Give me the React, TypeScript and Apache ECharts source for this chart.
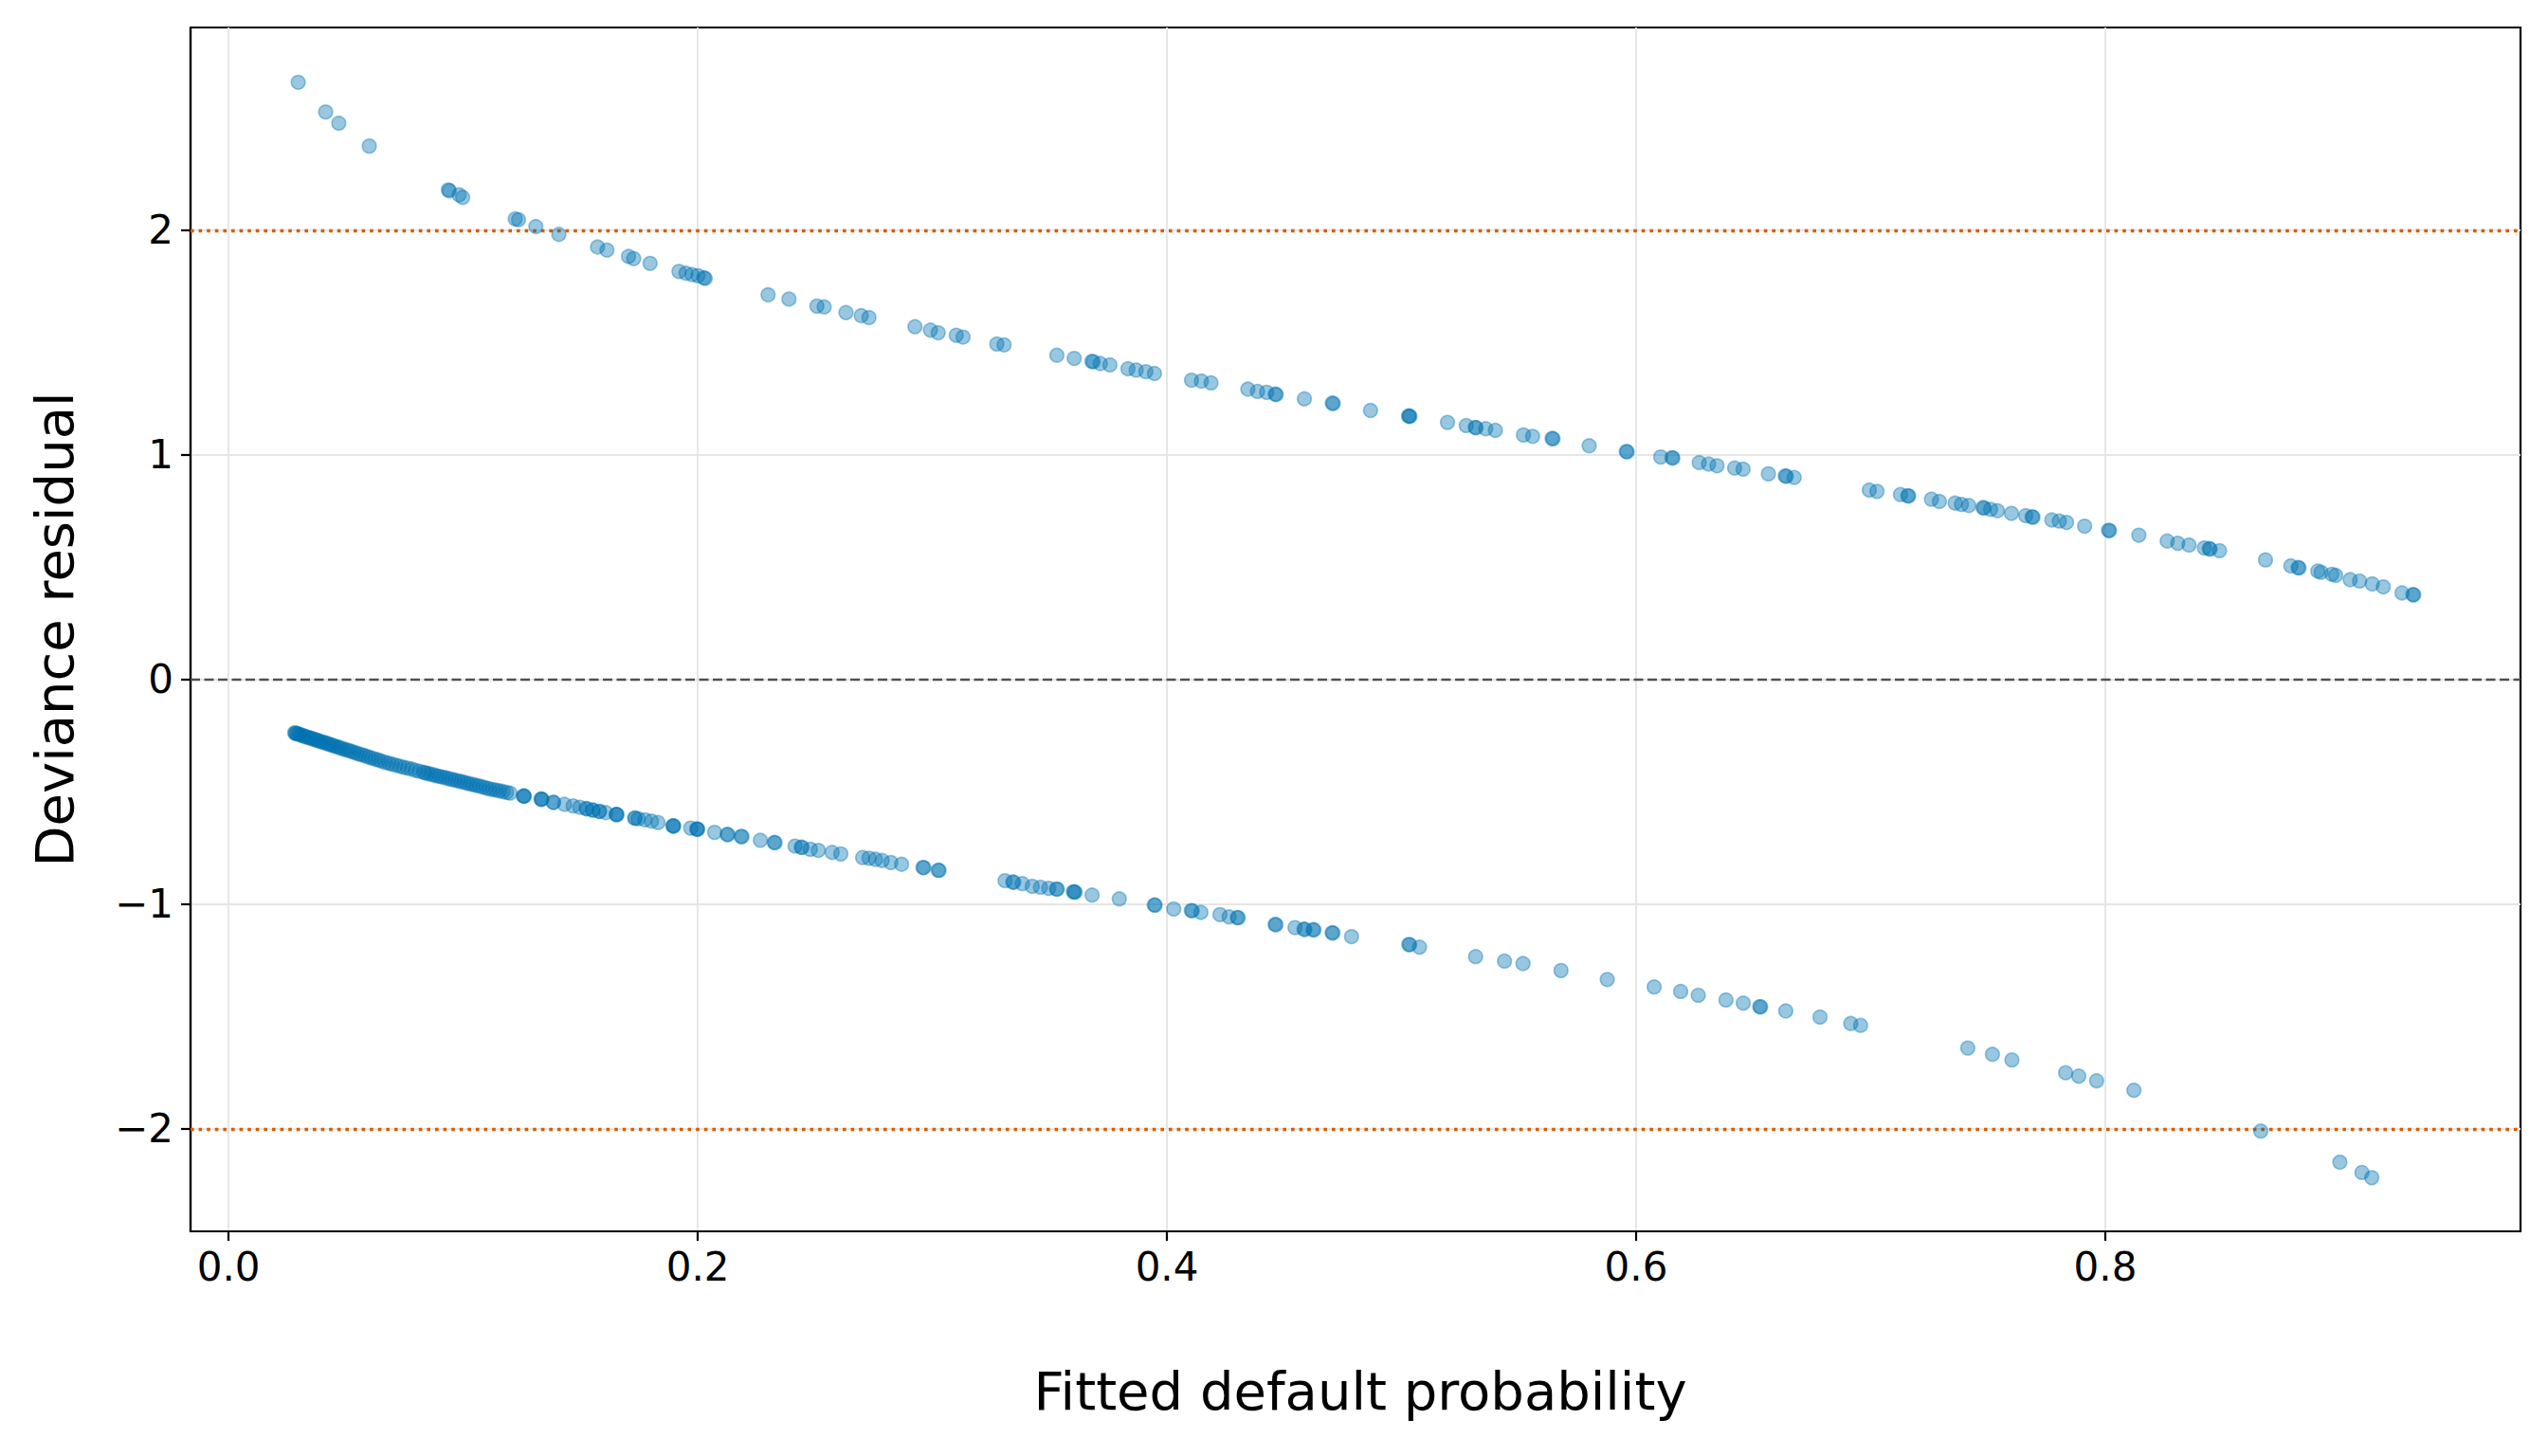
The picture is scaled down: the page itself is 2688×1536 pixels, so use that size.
import React, { useEffect, useRef } from "react";
import * as echarts from "echarts";

// ---- data ----
const xTicks = [0, 0.2, 0.4, 0.6, 0.8];
const yTicks = [-2, -1, 0, 1, 2];
const xRange = [-0.0162, 0.977];
const yRange = [-2.456, 2.903];
const refLines = [2, -2];
const zeroLine = 0;

// defaulted customers (upper band)
const defaultedPoints = [
  [0.0297, 2.659], [0.0414, 2.527], [0.047, 2.477], [0.06, 2.375],
  [0.0937, 2.18], [0.0941, 2.176], [0.0983, 2.158], [0.0998, 2.147],
  [0.1222, 2.051], [0.1236, 2.047], [0.131, 2.017], [0.1408, 1.982],
  [0.1573, 1.926], [0.1613, 1.912], [0.1705, 1.884], [0.1727, 1.874],
  [0.1797, 1.853], [0.192, 1.817], [0.195, 1.809], [0.1976, 1.803],
  [0.2001, 1.798], [0.2026, 1.789], [0.2032, 1.786], [0.23, 1.713],
  [0.2389, 1.694], [0.2508, 1.663], [0.2539, 1.659], [0.2632, 1.634],
  [0.2697, 1.62], [0.273, 1.612], [0.2926, 1.571], [0.2992, 1.556],
  [0.3025, 1.544], [0.3102, 1.533], [0.3131, 1.525], [0.3275, 1.494],
  [0.3306, 1.49], [0.3531, 1.444], [0.3605, 1.43], [0.368, 1.417],
  [0.3686, 1.415], [0.3716, 1.407], [0.3757, 1.401], [0.3834, 1.384],
  [0.3869, 1.378], [0.391, 1.371], [0.3947, 1.363], [0.4105, 1.333],
  [0.4147, 1.329], [0.4188, 1.321], [0.4345, 1.293], [0.4386, 1.283],
  [0.4425, 1.279], [0.4462, 1.271], [0.4466, 1.269], [0.4586, 1.25],
  [0.4705, 1.231], [0.4709, 1.229], [0.4868, 1.198], [0.503, 1.174],
  [0.5033, 1.173], [0.5036, 1.172], [0.5196, 1.145], [0.5276, 1.131],
  [0.5314, 1.123], [0.5318, 1.121], [0.5359, 1.117], [0.54, 1.11],
  [0.552, 1.089], [0.5559, 1.083], [0.5642, 1.074], [0.5646, 1.072],
  [0.58, 1.041], [0.5958, 1.016], [0.5962, 1.014], [0.6105, 0.991],
  [0.6153, 0.988], [0.6157, 0.986], [0.6269, 0.966], [0.6309, 0.96],
  [0.6345, 0.952], [0.642, 0.942], [0.6456, 0.937], [0.6564, 0.916],
  [0.6636, 0.907], [0.664, 0.905], [0.6674, 0.9], [0.6994, 0.844],
  [0.7027, 0.838], [0.7127, 0.824], [0.7158, 0.819], [0.7162, 0.817],
  [0.7259, 0.803], [0.7293, 0.793], [0.736, 0.786], [0.7387, 0.78],
  [0.7418, 0.775], [0.7479, 0.766], [0.7483, 0.764], [0.7511, 0.758],
  [0.754, 0.752], [0.76, 0.74], [0.7661, 0.73], [0.7688, 0.725],
  [0.7692, 0.723], [0.7772, 0.711], [0.7804, 0.706], [0.7835, 0.7],
  [0.7912, 0.683], [0.8014, 0.665], [0.8018, 0.663], [0.8143, 0.643],
  [0.8264, 0.617], [0.8309, 0.607], [0.8357, 0.599], [0.8422, 0.586],
  [0.8443, 0.583], [0.8447, 0.581], [0.8487, 0.574], [0.8683, 0.533],
  [0.8791, 0.506], [0.8822, 0.499], [0.8826, 0.497], [0.8906, 0.483],
  [0.892, 0.478], [0.8966, 0.469], [0.8982, 0.464], [0.9044, 0.445],
  [0.9084, 0.439], [0.9138, 0.426], [0.9185, 0.413], [0.9265, 0.386],
  [0.9311, 0.379], [0.9315, 0.377],
];

// non-defaulted customers, dense low-probability band
const nonDefaultedDense = [
  [0.0282, -0.237], [0.0285, -0.238], [0.0289, -0.24], [0.0293, -0.241],
  [0.03, -0.243], [0.0307, -0.246], [0.0315, -0.249], [0.0322, -0.251],
  [0.033, -0.254], [0.0338, -0.257], [0.0346, -0.259], [0.0354, -0.262],
  [0.0362, -0.265], [0.037, -0.267], [0.0378, -0.27], [0.0386, -0.273],
  [0.0395, -0.276], [0.0404, -0.279], [0.0413, -0.282], [0.0422, -0.285],
  [0.0431, -0.288], [0.044, -0.291], [0.045, -0.295], [0.046, -0.298],
  [0.047, -0.302], [0.048, -0.305], [0.0491, -0.309], [0.0502, -0.312],
  [0.0513, -0.316], [0.0524, -0.32], [0.0536, -0.324], [0.0548, -0.328],
  [0.056, -0.332], [0.0572, -0.336], [0.0585, -0.34], [0.0598, -0.345],
  [0.0611, -0.349], [0.0625, -0.354], [0.0639, -0.358], [0.0653, -0.363],
  [0.0668, -0.368], [0.0683, -0.372], [0.0698, -0.377], [0.0714, -0.381],
  [0.073, -0.385], [0.0746, -0.39], [0.0762, -0.394], [0.0779, -0.398],
  [0.0796, -0.403], [0.0813, -0.408], [0.083, -0.412],
  [0.0838, -0.415], [0.085, -0.418], [0.0862, -0.421], [0.0875, -0.424],
  [0.0888, -0.428], [0.09, -0.431], [0.0913, -0.434], [0.0926, -0.437],
  [0.0939, -0.441], [0.0952, -0.444], [0.0965, -0.447], [0.0978, -0.451],
  [0.0991, -0.454], [0.1004, -0.457], [0.1017, -0.461], [0.103, -0.464],
  [0.1043, -0.467], [0.1056, -0.471], [0.107, -0.474], [0.1084, -0.478],
  [0.1098, -0.482], [0.1112, -0.486], [0.1126, -0.489], [0.114, -0.492],
  [0.1155, -0.495], [0.117, -0.498], [0.1185, -0.502], [0.12, -0.505],
];

// non-defaulted customers, sparser part of the band
const nonDefaultedSparse = [
  [0.1257, -0.518], [0.1259, -0.518], [0.1261, -0.519],
  [0.1332, -0.532], [0.1334, -0.532], [0.1336, -0.533],
  [0.1384, -0.546], [0.1386, -0.547], [0.1432, -0.555],
  [0.1469, -0.562], [0.1497, -0.568], [0.1525, -0.574], [0.1527, -0.575],
  [0.1552, -0.58], [0.1554, -0.581], [0.158, -0.586], [0.1582, -0.587],
  [0.1608, -0.592], [0.1652, -0.6], [0.1654, -0.6], [0.1656, -0.601],
  [0.1731, -0.616], [0.1733, -0.617], [0.1746, -0.619],
  [0.1775, -0.624], [0.1803, -0.63], [0.1831, -0.636], [0.1894, -0.651],
  [0.1896, -0.651], [0.1898, -0.652], [0.197, -0.661], [0.1996, -0.665],
  [0.1998, -0.666], [0.2, -0.666],
  [0.2072, -0.68], [0.2125, -0.689], [0.2129, -0.69], [0.2185, -0.698],
  [0.2189, -0.699], [0.2267, -0.715], [0.2326, -0.725], [0.233, -0.726],
  [0.2415, -0.741], [0.2441, -0.746], [0.2445, -0.747], [0.248, -0.755],
  [0.2514, -0.76], [0.2573, -0.769], [0.261, -0.776], [0.2703, -0.792],
  [0.273, -0.795], [0.2758, -0.8], [0.2786, -0.805], [0.2823, -0.814],
  [0.2869, -0.822], [0.296, -0.836], [0.2964, -0.837], [0.3025, -0.848],
  [0.3029, -0.849], [0.331, -0.895], [0.3343, -0.901], [0.3347, -0.902],
  [0.3384, -0.908], [0.3426, -0.92], [0.3461, -0.924], [0.3496, -0.929],
  [0.3529, -0.932], [0.3533, -0.933], [0.3601, -0.944], [0.3605, -0.945],
  [0.3609, -0.946], [0.3681, -0.959], [0.3797, -0.976], [0.3946, -1.003],
  [0.395, -1.004], [0.4029, -1.021], [0.4104, -1.028], [0.4108, -1.029],
  [0.4145, -1.036], [0.4226, -1.046], [0.4265, -1.056], [0.43, -1.059],
  [0.4304, -1.06], [0.4461, -1.09], [0.4465, -1.091], [0.4546, -1.104],
  [0.4584, -1.111], [0.4588, -1.112], [0.4623, -1.113], [0.4627, -1.114],
  [0.4704, -1.127], [0.4708, -1.128], [0.4787, -1.144], [0.5031, -1.179],
  [0.5035, -1.18], [0.5077, -1.191], [0.5316, -1.233], [0.5439, -1.253],
  [0.5518, -1.264], [0.568, -1.295], [0.5877, -1.335], [0.6077, -1.368],
  [0.619, -1.388], [0.6265, -1.405], [0.6383, -1.426], [0.6457, -1.44],
  [0.6527, -1.456], [0.6531, -1.457], [0.6638, -1.475], [0.6784, -1.502],
  [0.6915, -1.531], [0.6957, -1.539], [0.7414, -1.64], [0.7519, -1.668],
  [0.7602, -1.693], [0.7831, -1.75], [0.7887, -1.765], [0.7963, -1.786],
  [0.8122, -1.828], [0.8663, -2.01], [0.9, -2.148], [0.9094, -2.194],
  [0.9136, -2.217],
];

const FONT = "DejaVu Sans";
const MINUS = "\u2212";

const pointStyle = {
  color: "rgba(0,114,178,0.5)",
  borderColor: "rgba(0,114,178,0.5)",
  borderWidth: 1.6,
};

export default function App() {
  const ref = useRef<HTMLDivElement | null>(null);

  useEffect(() => {
    document.body.style.margin = "0";
    if (!ref.current) return;
    const chart = echarts.init(ref.current, null, { renderer: "svg" });
    const axisLineStyle = { color: "#000", width: 2.2 };
    const option: any = {
      animation: false,
      backgroundColor: "#fff",
      grid: {
        left: 201,
        right: 29,
        top: 29,
        bottom: 237,
        containLabel: false,
        show: true,
        borderColor: "#000",
        borderWidth: 2.2,
        backgroundColor: "transparent",
      },
      xAxis: {
        type: "value",
        min: xRange[0],
        max: xRange[1],
        axisLine: { show: true, onZero: false, lineStyle: axisLineStyle },
        axisTick: {
          show: true,
          inside: false,
          length: 10,
          lineStyle: axisLineStyle,
          customValues: xTicks,
        },
        axisLabel: {
          customValues: xTicks,
          formatter: (v: number) => v.toFixed(1),
          fontSize: 42,
          fontFamily: FONT,
          color: "#000",
          margin: 16,
        },
        splitLine: { show: true, lineStyle: { color: "#e6e6e6", width: 2 } },
        name: "Fitted default probability",
        nameLocation: "middle",
        nameGap: 140,
        nameTextStyle: { fontSize: 56, fontFamily: FONT, color: "#000", padding: [0, 0, 0, 10] },
      },
      yAxis: {
        type: "value",
        min: yRange[0],
        max: yRange[1],
        axisLine: { show: true, onZero: false, lineStyle: axisLineStyle },
        axisTick: {
          show: true,
          inside: false,
          length: 10,
          lineStyle: axisLineStyle,
          customValues: yTicks,
        },
        axisLabel: {
          customValues: yTicks,
          formatter: (v: number) => (v < 0 ? MINUS + Math.abs(v) : String(v)),
          fontSize: 42,
          fontFamily: FONT,
          color: "#000",
          margin: 18,
        },
        splitLine: { show: true, lineStyle: { color: "#e6e6e6", width: 2 } },
        name: "Deviance residual",
        nameLocation: "middle",
        nameGap: 116,
        nameRotate: 90,
        nameTextStyle: { fontSize: 56, fontFamily: FONT, color: "#000" },
      },
      series: [
        {
          type: "scatter",
          symbol: "circle",
          symbolSize: 14.6,
          itemStyle: pointStyle,
          data: [...nonDefaultedDense, ...nonDefaultedSparse, ...defaultedPoints],
          silent: true,
          z: 3,
          markLine: {
            silent: true,
            symbol: ["none", "none"],
            label: { show: false },
            z: 2,
            data: [
              ...refLines.map((v) => ({
                yAxis: v,
                lineStyle: { color: "#D55E00", width: 3.3, type: [3.6, 5] },
              })),
              {
                yAxis: zeroLine,
                lineStyle: { color: "#505050", width: 2.4, type: [10, 4.5] },
              },
            ],
          },
        },
      ],
    };
    chart.setOption(option);
    return () => chart.dispose();
  }, []);

  return (
    <div
      ref={ref}
      style={{ position: "absolute", left: 0, top: 0, width: 2688, height: 1536 }}
    />
  );
}
